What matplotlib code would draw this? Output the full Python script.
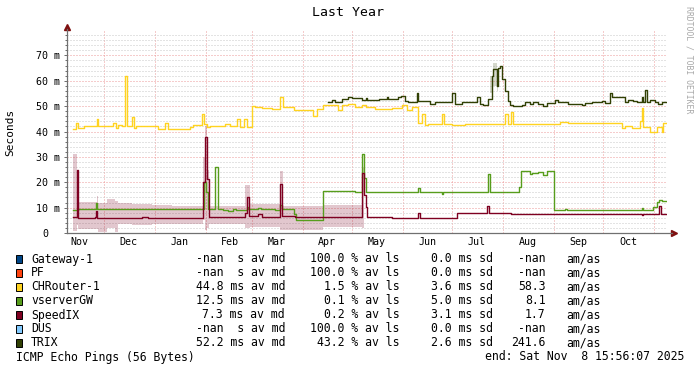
import matplotlib
matplotlib.use("Agg")
import matplotlib.pyplot as plt
from matplotlib.patches import Rectangle
from matplotlib.transforms import blended_transform_factory
from datetime import datetime, timedelta
import numpy as np

nan = float("nan")

W, H = 697, 371
end_time = datetime(2025, 11, 8, 15, 56, 7)
start_time = end_time - timedelta(days=365)

months = ["Nov", "Dec", "Jan", "Feb", "Mar", "Apr", "May", "Jun", "Jul", "Aug", "Sep", "Oct"]
month_starts = [(2024, 12), (2025, 1), (2025, 2), (2025, 3), (2025, 4), (2025, 5),
                (2025, 6), (2025, 7), (2025, 8), (2025, 9), (2025, 10), (2025, 11)]
label_months = [(2024, 11), (2024, 12), (2025, 1), (2025, 2), (2025, 3), (2025, 4),
                (2025, 5), (2025, 6), (2025, 7), (2025, 8), (2025, 9), (2025, 10)]

y_ticks = [0, 10, 20, 30, 40, 50, 60, 70]
y_labels = ["0", "10 m", "20 m", "30 m", "40 m", "50 m", "60 m", "70 m"]

# step series, x = days since start, y = ms
chr_days = [3.9, 5.3, 6.9, 10.5, 18.0, 19.1, 28.2, 29.6, 31.2, 33.6, 35.3, 36.7, 39.3, 40.8,
            41.8, 55.5, 59.6, 61.3, 74.8, 76.8, 81.9, 83.5, 85.0, 87.0, 96.0, 99.0, 103.2,
            105.2, 107.9, 109.3, 112.7, 114.4, 118.4, 124.9, 129.6, 131.2, 138.3, 149.8,
            151.9, 155.9, 165.0, 167.1, 171.1, 175.2, 179.3, 181.7, 187.4, 197.5, 203.6,
            206.6, 209.7, 213.7, 215.8, 217.8, 219.8, 227.9, 229.3, 234.0, 242.1, 266.4,
            268.1, 269.9, 271.5, 300.0, 305.0, 337.4, 339.4, 344.0, 348.6, 349.6, 350.6,
            354.7, 358.7, 361.8, 362.7, 365.0]
chr_ms = [41.0, 43.5, 41.5, 42.2, 45.0, 42.2, 43.5, 41.5, 42.5, 42.0, 62.0, 42.0, 45.6, 41.5,
          42.2, 41.0, 43.3, 41.0, 41.8, 42.6, 46.9, 43.0, 41.8, 42.3, 42.8, 42.2, 45.0,
          41.7, 45.0, 41.8, 49.9, 49.7, 49.3, 48.7, 53.6, 49.5, 48.5, 46.2,
          49.0, 50.6, 48.5, 50.5, 51.0, 49.5, 50.5, 49.5, 48.7, 49.3, 50.3,
          48.5, 49.7, 43.4, 47.0, 42.5, 43.0, 47.0, 43.0, 42.5, 43.0, 47.0,
          43.0, 47.5, 42.8, 43.8, 43.3, 41.5, 42.2, 41.5, 44.0, 49.3, 41.7,
          39.8, 41.8, 40.0, 43.5, 43.5]

gw_days = [3.9, 6.9, 9.9, 17.4, 18.4, 55.0, 57.0, 83.3, 84.5, 86.0, 90.0, 91.6, 95.1, 98.0,
           101.0, 103.0, 109.3, 110.3, 116.0, 118.0, 126.5, 129.6, 130.6, 138.1, 139.1,
           155.9, 175.2, 179.3, 180.7, 181.9, 213.7, 214.7, 227.9, 228.9, 256.3, 257.3,
           275.0, 276.2, 281.6, 282.7, 286.7, 289.7, 291.8, 296.4, 302.9, 304.0, 349.6,
           350.6, 356.7, 358.7, 360.1, 361.8, 365.0]
gw_ms = [9.1, 9.6, 9.3, 12.0, 9.3, 9.6, 9.3, 20.0, 16.3, 9.5, 26.0, 9.5, 9.2, 8.8,
         9.6, 9.0, 10.3, 9.5, 9.8, 9.3, 9.0, 11.0, 9.5, 7.5, 5.3,
         16.6, 16.0, 31.1, 21.6, 16.3, 17.7, 16.3, 15.5, 16.3, 23.3, 16.3,
         18.0, 24.3, 23.3, 23.6, 24.0, 23.0, 24.3, 9.1, 9.6, 9.0, 10.0,
         9.0, 10.2, 12.4, 13.0, 12.6, 12.6]

six_days = [3.9, 5.9, 6.9, 9.9, 17.0, 17.6, 18.4, 25.1, 28.2, 45.4, 49.5, 51.9, 82.9, 84.0,
            85.0, 86.4, 90.0, 108.3, 109.7, 110.9, 116.4, 118.4, 129.6, 130.6, 138.7,
            179.3, 180.7, 181.6, 182.3, 197.5, 213.7, 214.7, 237.0, 255.7, 256.9, 270.0,
            349.6, 350.6, 359.9, 361.1, 365.0]
six_ms = [6.5, 25.0, 6.1, 5.8, 6.5, 8.5, 6.0, 5.8, 6.0, 6.4, 5.8, 6.1, 20.0, 37.8,
          21.3, 6.2, 6.5, 8.0, 14.1, 6.6, 7.6, 6.5, 19.4, 6.7, 6.4,
          23.6, 15.0, 10.4, 6.2, 5.9, 8.0, 5.9, 7.8, 10.8, 7.8, 7.6,
          7.0, 7.6, 10.5, 7.6, 7.6]

trix_days = [159.0, 161.0, 163.0, 167.1, 171.1, 173.2, 179.3, 181.7, 182.5, 185.3, 190.0,
             194.5, 195.5, 201.5, 203.2, 205.6, 207.6, 212.7, 213.7, 220.8, 223.9, 234.4,
             236.0, 240.1, 249.2, 251.2, 253.3, 256.3, 258.3, 259.3, 261.4, 262.4, 263.4,
             264.8, 266.4, 268.1, 269.5, 271.5, 276.8, 278.6, 281.6, 283.7, 286.7, 289.7,
             291.8, 296.9, 298.9, 304.9, 313.1, 315.1, 319.2, 325.3, 327.3, 330.3, 331.4,
             339.4, 341.5, 344.5, 346.6, 349.6, 350.6, 351.6, 353.0, 354.7, 357.7, 359.7,
             361.8, 365.0]
trix_ms = [51.5, 52.3, 51.5, 52.7, 53.5, 53.3, 52.5, 53.2, 52.5, 52.3, 52.8,
           53.5, 52.8, 53.5, 54.0, 52.0, 51.5, 55.0, 52.0, 50.8, 51.5, 55.0,
           50.7, 51.5, 53.5, 51.0, 50.5, 53.0, 62.0, 64.8, 58.0, 65.0, 66.0,
           60.5, 56.0, 52.0, 50.5, 50.2, 50.5, 51.7, 51.0, 51.5, 50.8, 50.0,
           51.3, 52.5, 51.5, 51.0, 50.3, 51.3, 51.7, 52.0, 51.3, 55.3, 53.6,
           51.5, 52.5, 52.0, 51.5, 53.5, 51.5, 56.5, 51.5, 52.5, 51.7, 51.0,
           51.5, 51.5]

# smoke (spread) bands
six_smoke_days = [3.9, 5.9, 6.9, 18.0, 19.1, 24.1, 29.2, 31.2, 39.3, 51.5, 63.7, 82.9, 84.0,
                  85.0, 86.4, 108.3, 111.3, 129.6, 131.2, 155.9, 179.3, 180.7, 189.0]
six_smoke_hi = [31.0, 25.0, 12.3, 14.5, 12.0, 13.3, 12.5, 12.0, 11.5, 11.0, 10.5, 30.0, 42.0,
                25.0, 10.8, 19.0, 11.5, 24.5, 10.5, 11.0, 26.0, 11.5, nan]
six_smoke_lo = [0.8, 3.0, 1.5, 1.5, 0.5, 2.0, 0.3, 3.5, 3.0, 3.5, 3.5, 5.0, 1.0,
                2.0, 3.5, 2.0, 2.5, 1.0, 1.2, 2.5, 2.0, 4.5, nan]

chr_smoke_days = [5.3, 6.9, 35.3, 36.7, 39.3, 40.8, 81.9, 83.5, 103.2, 105.2, 129.6, 131.2]
chr_smoke_hi = [46.0, nan, 69.0, nan, 48.0, nan, 49.0, nan, 47.5, nan, 54.5, nan]
chr_smoke_lo = [43.5, nan, 62.0, nan, 45.6, nan, 46.9, nan, 45.0, nan, 53.6, nan]

gw_smoke_days = [83.3, 84.5, 90.0, 91.6, 276.2, 296.4]
gw_smoke_hi = [25.0, nan, 28.5, nan, 25.6, nan]
gw_smoke_lo = [20.0, nan, 26.0, nan, 21.3, nan]

trix_smoke_days = [257.3, 259.3, 261.4, 262.4, 265.0]
trix_smoke_hi = [62.0, 67.0, 62.0, 67.0, nan]
trix_smoke_lo = [55.0, 58.0, 56.0, 60.0, nan]

# legend
host_names = ["Gateway-1", "PF", "CHRouter-1", "vserverGW", "SpeedIX", "DUS", "TRIX"]
host_colors = ["#004586", "#ff420e", "#ffd320", "#579d1c", "#7e0021", "#83caff", "#314004"]
med_text = ["-nan  s av md", "-nan  s av md", "44.8 ms av md", "12.5 ms av md",
            "7.3 ms av md", "-nan  s av md", "52.2 ms av md"]
loss_text = ["100.0 % av ls", "100.0 % av ls", "1.5 % av ls", "0.1 % av ls",
             "0.2 % av ls", "100.0 % av ls", "43.2 % av ls"]
sd_text = ["0.0 ms sd", "0.0 ms sd", "3.6 ms sd", "5.0 ms sd", "3.1 ms sd",
           "0.0 ms sd", "2.6 ms sd"]
amas_text = ["-nan", "-nan", "58.3", "8.1", "1.7", "-nan", "241.6"]


def days_since_start(y, m, d=1):
    return (datetime(y, m, d) - start_time).total_seconds() / 86400.0


def fx(px):
    return px / W


def fy(py):
    return 1 - py / H


def step_line(ax, days, vals, color):
    ax.step(days, vals, where="post", color=color, lw=1.0, zorder=3)


def smoke(ax, days, lo, hi, color, alpha):
    ax.fill_between(days, lo, hi, step="post", color=color, alpha=alpha, lw=0, zorder=2)


plt.rcParams["font.family"] = ["DejaVu Sans Mono"]
fig = plt.figure(figsize=(W / 100, H / 100), dpi=100)
fig.patch.set_facecolor("white")
ax = fig.add_axes([fx(67), fy(233), 600 / W, 203 / H])
ax.set_xlim(0, 365)
ax.set_ylim(0, 80)

smoke(ax, six_smoke_days, six_smoke_lo, six_smoke_hi, "#7e0021", 0.22)
smoke(ax, chr_smoke_days, chr_smoke_lo, chr_smoke_hi, "#ffd320", 0.3)
smoke(ax, gw_smoke_days, gw_smoke_lo, gw_smoke_hi, "#579d1c", 0.22)
smoke(ax, trix_smoke_days, trix_smoke_lo, trix_smoke_hi, "#314004", 0.2)

step_line(ax, chr_days, chr_ms, host_colors[2])
step_line(ax, gw_days, gw_ms, host_colors[3])
step_line(ax, six_days, six_ms, host_colors[4])
step_line(ax, trix_days, trix_ms, host_colors[6])

# grid
ax.set_yticks(y_ticks, labels=y_labels)
ax.set_yticks(np.arange(2, 80, 2), minor=True)
boundaries = [days_since_start(y, m) for y, m in month_starts]
mids = [days_since_start(y, m, 16) for y, m in label_months]
ax.set_xticks(mids, labels=months)
ax.set_xticks(boundaries, minor=True)
ax.set_axisbelow(True)
ax.yaxis.grid(True, which="minor", color="#c8c8c8", lw=0.72, ls=(0, (1, 2)))
ax.yaxis.grid(True, which="major", color="#ec9a9a", lw=0.72, ls=(0, (1, 2)))
ax.xaxis.grid(True, which="minor", color="#ec9a9a", lw=0.72, ls=(0, (1, 2)))
ax.xaxis.grid(False, which="major")

ax.tick_params(axis="y", which="major", direction="out", length=2.2, width=0.72,
               color="#707070", pad=2.9, labelsize=7.2)
ax.tick_params(axis="y", which="minor", direction="out", length=1.2, width=0.72, color="#707070")
ax.tick_params(axis="x", which="both", length=0, pad=3.0, labelsize=7.2)
ax.yaxis.get_major_ticks()[0].set_pad(2.9 + 8.6)

for s in ["top", "right"]:
    ax.spines[s].set_visible(False)
for s in ["left", "bottom"]:
    ax.spines[s].set_color("#707070")
    ax.spines[s].set_linewidth(0.9)
ax.spines["left"].set_bounds(0, 80.5)
ax.spines["bottom"].set_bounds(0, 368)

# axis arrows
tr = blended_transform_factory(ax.transAxes, ax.transData)
ax.plot([0], [81.2], marker="^", ms=4.5, color="#7f1010", clip_on=False, transform=tr)
tr2 = blended_transform_factory(ax.transData, ax.transAxes)
ax.plot([369], [0], marker=">", ms=4.5, color="#7f1010", clip_on=False, transform=tr2)

ax.set_ylabel("Seconds", fontsize=8, labelpad=0)
ax.yaxis.set_label_coords(fx(10) - fx(67), 0.5 + (fy(132) - fy(131.5)))
ax.yaxis.label.set_position((0, 0))
fig.text(fx(10.5), fy(132), "Seconds", rotation=90, fontsize=8, ha="center", va="center")
ax.set_ylabel("")

fig.text(fx(348), fy(13), "Last Year", fontsize=9.5, ha="center", va="center")
fig.text(fx(688.5), fy(60), "RRDTOOL / TOBI OETIKER", rotation=270, fontsize=5.9,
         color="#a8a8a8", ha="center", va="center")

# legend rows
for i, name in enumerate(host_names):
    yc = 259 + 14 * i
    fig.add_artist(Rectangle((fx(15.7), fy(yc + 4)), 6 / W, 8 / H, transform=fig.transFigure,
                             facecolor=host_colors[i], edgecolor="black", lw=0.7))
    fig.text(fx(31), fy(yc), name, fontsize=8.3, ha="left", va="center")
    fig.text(fx(285), fy(yc), med_text[i], fontsize=8.3, ha="right", va="center")
    fig.text(fx(399.5), fy(yc), loss_text[i], fontsize=8.3, ha="right", va="center")
    fig.text(fx(493), fy(yc), sd_text[i], fontsize=8.3, ha="right", va="center")
    fig.text(fx(545.5), fy(yc), amas_text[i], fontsize=8.3, ha="right", va="center")
    fig.text(fx(566.5), fy(yc), "am/as", fontsize=8.3, ha="left", va="center")

fig.text(fx(16.5), fy(357), "ICMP Echo Pings (56 Bytes)", fontsize=8.3, ha="left", va="center")
fig.text(fx(684), fy(357), "end: Sat Nov  8 15:56:07 2025", fontsize=8.3, ha="right", va="center")

fig.savefig("out.png", dpi=100, facecolor="white")
